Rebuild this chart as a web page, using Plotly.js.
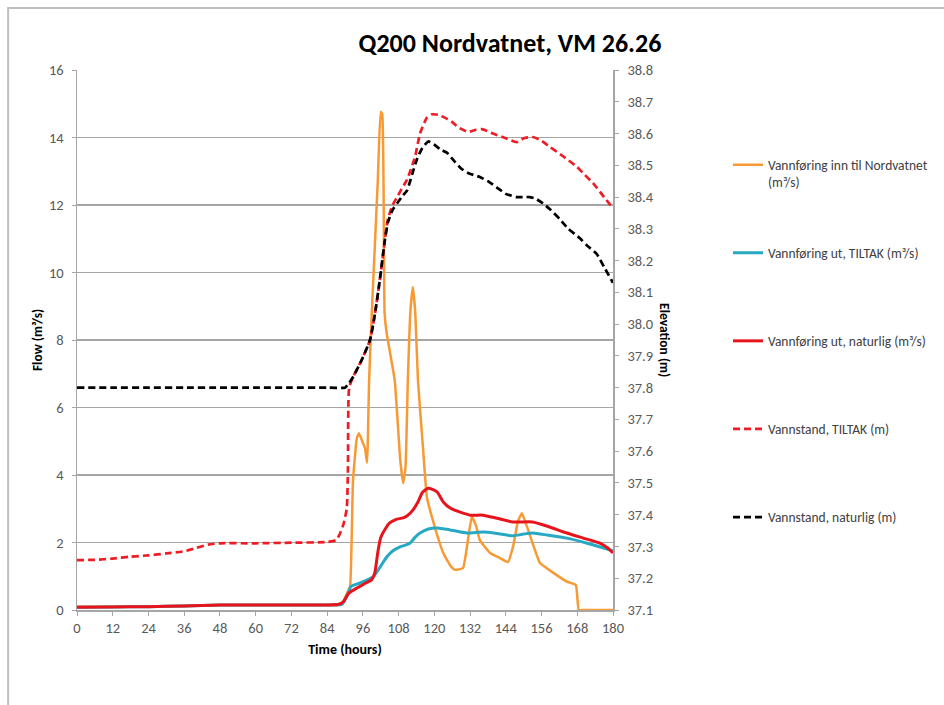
<!DOCTYPE html>
<html>
<head>
<meta charset="utf-8">
<script src="https://cdn.plot.ly/plotly-3.0.1.min.js"></script>
<style>html,body{margin:0;padding:0;background:#fff;}#chart{width:944px;height:705px;}</style>
</head>
<body>
<div id="chart"></div>
<script>
// ---- data ----
const inflowHours = [0,12,24,36,48,60,72,84,89,91.2,91.7,92.3,92.7,94,94.7,96,96.7,97.4,98.1,99,100,101,102,102.5,103.3,104,106.7,108.5,109.5,110.3,111.1,112,112.8,113.6,114.5,116.2,117.5,119.5,123,125.5,127,129.6,131,132.6,134,135.3,138.7,142,144.7,146.5,148,149.4,151,153,155.5,160,164.5,167.5,168.5,170,180];
const inflow      = [0.1,0.1,0.1,0.12,0.15,0.15,0.15,0.15,0.2,0.6,0.68,2.37,3.85,5.1,5.24,4.95,4.8,4.36,6.8,8.8,10.75,12.7,14.76,14.7,8.8,8.2,6.8,4.5,3.76,4.2,6.8,8.9,9.57,8.8,6.8,4.8,3.35,2.66,1.69,1.3,1.19,1.24,1.9,2.76,2.5,2.07,1.69,1.54,1.42,1.9,2.6,2.87,2.5,1.98,1.39,1.1,0.84,0.74,0,0,0];

const outTiltakHours = [0,12,24,36,48,60,72,84,89,91.3,92,95,99.4,102,104,106,108.5,111.8,113.5,115.2,118,120.9,125,131,136.3,141,146.4,150,153,158,164.5,171.3,176,180];
const outTiltak      = [0.08,0.09,0.1,0.12,0.15,0.15,0.15,0.15,0.17,0.55,0.7,0.8,0.98,1.3,1.57,1.75,1.87,1.98,2.15,2.28,2.4,2.43,2.38,2.28,2.31,2.27,2.2,2.25,2.28,2.22,2.13,1.98,1.86,1.75];

const outNatHours = [0,12,24,36,48,60,72,84,88,89.5,91.3,94,97,99,100,101,102,103.5,105,107,109.5,111,112.8,114.5,116,117.9,120.9,123,125.3,128,132,136.3,141,146.4,153,158,164.5,170,175.6,178,180];
const outNat      = [0.08,0.09,0.1,0.12,0.15,0.15,0.15,0.15,0.17,0.25,0.5,0.65,0.8,0.9,1.1,1.7,2.15,2.4,2.58,2.68,2.73,2.8,2.96,3.2,3.48,3.61,3.5,3.2,3.02,2.92,2.81,2.81,2.72,2.61,2.61,2.48,2.28,2.13,1.98,1.85,1.69];

const levelTiltakHours = [0,6,12,18,24,30,36,40,44,48,60,72,84,87,88.3,89.5,90.6,91.0,91.4,92.8,95.6,98.4,100.1,101.7,103.4,104.4,106,107.5,109,110.8,113.5,115.2,117.5,119,121.3,123.5,125.9,128,131.3,134,136,139.7,144,147.7,150,153,155.5,158.8,163,167.9,170.5,173.3,177,180];
const levelTiltak      = [37.257,37.258,37.262,37.268,37.272,37.278,37.285,37.295,37.306,37.31,37.31,37.312,37.314,37.32,37.34,37.37,37.42,37.55,37.8,37.835,37.887,37.95,38.035,38.14,38.265,38.33,38.375,38.40,38.425,38.454,38.526,38.60,38.65,38.66,38.659,38.65,38.637,38.62,38.605,38.612,38.614,38.60,38.585,38.573,38.585,38.589,38.58,38.558,38.53,38.495,38.47,38.444,38.40,38.365];

const levelNatHours = [0,12,24,36,48,60,72,84,90,91,92.8,95.6,98.4,100.1,101.7,103.4,104.4,106,107.5,109,110.8,112.5,114.2,116,118,120,122,124.2,127,129,131.3,135.3,138,141,144,147.7,150,152,154,156.5,159,162.2,165,168.9,171,174.6,177,180];
const levelNat      = [37.8,37.8,37.8,37.8,37.8,37.8,37.8,37.8,37.8,37.81,37.835,37.887,37.95,38.035,38.14,38.265,38.32,38.36,38.38,38.40,38.42,38.47,38.52,38.555,38.575,38.565,38.55,38.54,38.51,38.49,38.476,38.463,38.45,38.43,38.41,38.40,38.40,38.40,38.395,38.38,38.36,38.33,38.30,38.27,38.25,38.22,38.18,38.13];

const xTicks = [0,12,24,36,48,60,72,84,96,108,120,132,144,156,168,180];
const names = [
  'Vannføring inn til Nordvatnet<br>(m³/s)',
  'Vannføring ut, TILTAK (m³/s)<br>&nbsp;',
  'Vannføring ut, naturlig (m³/s)<br>&nbsp;',
  'Vannstand, TILTAK (m)<br>&nbsp;',
  'Vannstand, naturlig (m)<br>&nbsp;'
];

const FONT = "Carlito, 'Liberation Sans Narrow', 'Open Sans', sans-serif";
const sm = 0.6;
const traces = [
  {x: inflowHours, y: inflow, name: names[0], yaxis: 'y', mode: 'lines', line: {color: '#F79A34', width: 2.5, shape: 'spline', smoothing: 0.4}, legendgroup: 'a'},
  {x: outTiltakHours, y: outTiltak, name: names[1], yaxis: 'y', mode: 'lines', line: {color: '#27A9C4', width: 3, shape: 'spline', smoothing: sm}, legendgroup: 'b'},
  {x: outNatHours, y: outNat, name: names[2], yaxis: 'y', mode: 'lines', line: {color: '#E8141C', width: 3, shape: 'spline', smoothing: sm}, legendgroup: 'c'},
  {x: levelTiltakHours, y: levelTiltak, name: names[3], yaxis: 'y2', mode: 'lines', line: {color: '#F01C24', width: 2.7, dash: '7px,4px', shape: 'spline', smoothing: 0.5}, legendgroup: 'd'},
  {x: levelNatHours, y: levelNat, name: names[4], yaxis: 'y2', mode: 'lines', line: {color: '#000000', width: 2.7, dash: '7px,4px', shape: 'spline', smoothing: 0.5}, legendgroup: 'e'}
];

const layout = {
  width: 944, height: 705,
  margin: {l: 77, r: 330, t: 70, b: 95},
  paper_bgcolor: '#ffffff', plot_bgcolor: '#ffffff',
  font: {family: FONT, size: 14, color: '#595959'},
  title: {text: 'Q200 Nordvatnet, VM 26.26', x: 510/944, xanchor: 'center', y: 1 - 43/705, yanchor: 'middle',
          font: {family: FONT, size: 26, color: '#000000', weight: 'bold'}},
  showlegend: true,
  legend: {x: (728-77)/537, xanchor: 'left', y: 0.853, yanchor: 'top', tracegroupgap: 50, valign: 'top',
           font: {family: FONT, size: 13.5, color: '#404040'}, bgcolor: 'rgba(0,0,0,0)'},
  xaxis: {range: [0, 180], tickvals: xTicks, ticktext: xTicks.map(String), ticks: 'outside', ticklen: 4, tickcolor: '#A6A6A6',
          showline: true, linecolor: '#A6A6A6', linewidth: 1.5, showgrid: false, zeroline: false,
          tickfont: {size: 14.5, color: '#595959'},
          title: {text: '<b>Time (hours)</b>', standoff: 8, font: {size: 14, color: '#000'}}},
  yaxis: {range: [0, 16], dtick: 2, tick0: 0, ticks: 'outside', ticklen: 4, tickcolor: '#A6A6A6', ticklabelstandoff: 5,
          showline: true, linecolor: '#A6A6A6', linewidth: 1.5, showgrid: true, gridcolor: '#A6A6A6', gridwidth: 1.5, zeroline: false,
          tickfont: {size: 14.5, color: '#595959'}},
  yaxis2: {range: [37.1, 38.8], dtick: 0.1, tick0: 37.1, tickformat: '.1f', overlaying: 'y', side: 'right',
           ticks: 'outside', ticklen: 4, tickcolor: '#A6A6A6', ticklabelstandoff: 6, showline: true, linecolor: '#A6A6A6', linewidth: 1.5,
           showgrid: false, zeroline: false, tickfont: {size: 14.5, color: '#595959'}},
  annotations: [
    {text: '<b>Flow (m³/s)</b>', xref: 'paper', yref: 'paper', x: (37-77)/537, xanchor: 'center', y: 0.5, yanchor: 'middle', textangle: -90, showarrow: false,
     font: {family: FONT, size: 13.5, color: '#000'}},
    {text: '<b>Elevation (m)</b>', xref: 'paper', yref: 'paper', x: (666-77)/537, xanchor: 'center', y: 0.5, yanchor: 'middle', textangle: 90, showarrow: false,
     font: {family: FONT, size: 13.5, color: '#000'}}
  ],
  shapes: [
    {type: 'rect', xref: 'paper', yref: 'paper', x0: (8-77)/537, x1: 3, y0: -2, y1: (610-8)/540, line: {color: '#BFBFBF', width: 2}, fillcolor: 'rgba(0,0,0,0)', layer: 'below'}
  ]
};

Plotly.newPlot('chart', traces, layout, {displayModeBar: false, staticPlot: true});
</script>
</body>
</html>
